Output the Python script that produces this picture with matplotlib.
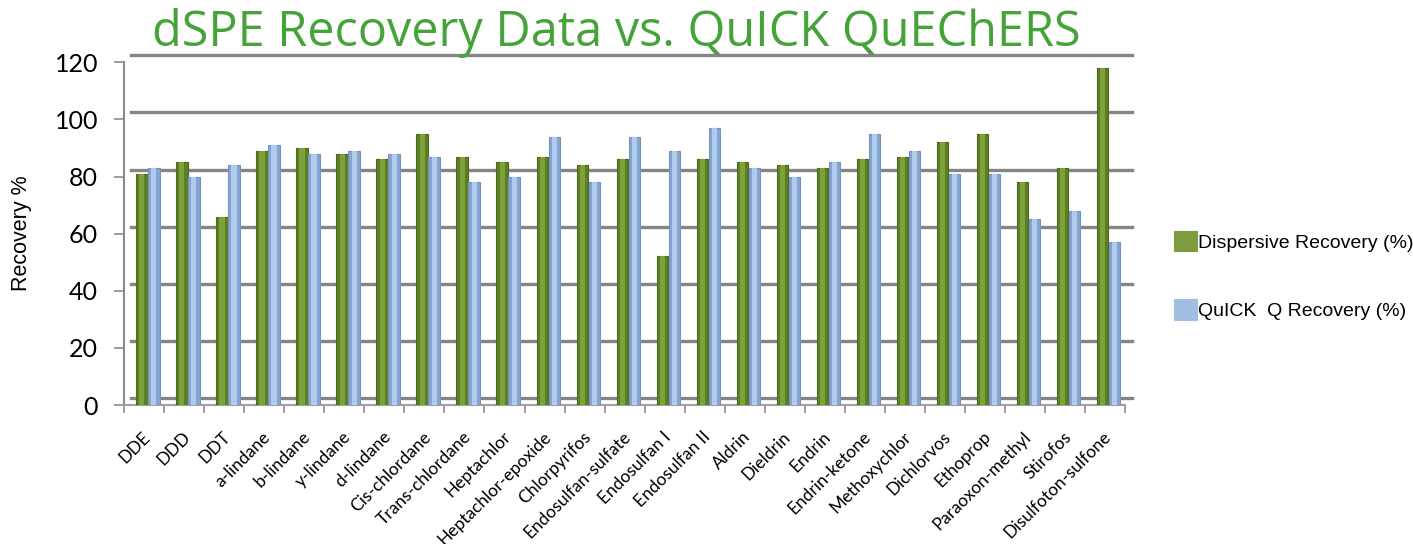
import matplotlib
matplotlib.use("Agg")
import matplotlib.pyplot as plt
import matplotlib.transforms as mtransforms
import numpy as np

categories = ["DDE", "DDD", "DDT", "a-lindane", "b-lindane", "y-lindane", "d-lindane",
              "Cis-chlordane", "Trans-chlordane", "Heptachlor", "Heptachlor-epoxide",
              "Chlorpyrifos", "Endosulfan-sulfate", "Endosulfan I", "Endosulfan II",
              "Aldrin", "Dieldrin", "Endrin", "Endrin-ketone", "Methoxychlor",
              "Dichlorvos", "Ethoprop", "Paraoxon-methyl", "Stirofos", "Disulfoton-sulfone"]
dispersive = [81, 85, 66, 89, 90, 88, 86, 95, 87, 85, 87, 84, 86, 52, 86, 85, 84, 83, 86, 87,
              92, 95, 78, 83, 118]
quick = [83, 80, 84, 91, 88, 89, 88, 87, 78, 80, 94, 78, 94, 89, 97, 83, 80, 85, 95, 89,
         81, 81, 65, 68, 57]
series_labels = ["Dispersive Recovery (%)", "QuICK  Q Recovery (%)"]
yticks = [0, 20, 40, 60, 80, 100, 120]

fig = plt.figure(figsize=(14.13, 5.44), dpi=100)
ax = fig.add_axes([0.088, 0.2555, 0.708, 0.630])

x = np.arange(len(categories))
w = 0.28
g_off, b_off = -0.06, 0.24

# gridlines on back wall (shifted for 3D look)
shift = mtransforms.ScaledTranslation(7/100, 7/100, fig.dpi_scale_trans)
for t in yticks:
    ax.plot([-0.5, len(categories) - 0.5], [t, t], color="#858585", lw=2.4,
            transform=ax.transData + shift, zorder=0, clip_on=False)

ax.bar(x + g_off, dispersive, width=w, color="#5e7e25", edgecolor="#4d6a1c", lw=0.8, zorder=3,
       label=series_labels[0])
ax.bar(x + g_off, dispersive, width=w * 0.45, color="#7ea23a", lw=0, zorder=4)
ax.bar(x + b_off, quick, width=w, color="#86a6d2", edgecolor="#7593c0", lw=0.8, zorder=3,
       label=series_labels[1])
ax.bar(x + b_off, quick, width=w * 0.45, color="#b0cbec", lw=0, zorder=4)

ax.set_xlim(-0.5, len(categories) - 0.5)
ax.set_ylim(0, 120)
ax.set_yticks(yticks)
ax.set_yticklabels([str(t) for t in yticks], fontsize=18, family="Lato")
ax.tick_params(axis="y", direction="out", length=7, width=1.2, color="#8c8c8c", pad=12)

ax.set_xticks(x)
ax.set_xticklabels(categories, rotation=45, ha="right", rotation_mode="anchor",
                   fontsize=12.5, family="Lato")
ax.tick_params(axis="x", length=0, pad=17)
ax.set_xticks(np.arange(len(categories) + 1) - 0.5, minor=True)
ax.tick_params(axis="x", which="minor", direction="out", length=6, width=1.2, color="#8c8c8c")
for lbl in ax.get_xticklabels():
    lbl.set_transform(lbl.get_transform() + mtransforms.ScaledTranslation(-0.02, 0, fig.dpi_scale_trans))

for s in ["top", "right"]:
    ax.spines[s].set_visible(False)
ax.spines["left"].set_color("#8c8c8c")
ax.spines["left"].set_linewidth(1.5)
ax.spines["bottom"].set_color("#a0a0a0")
ax.spines["bottom"].set_linewidth(1.5)

ax.set_ylabel("Recovery %", fontsize=15.5, family="Liberation Sans", labelpad=16)

fig.text(0.436, 0.94, "dSPE Recovery Data vs. QuICK QuEChERS", color="#45a33a",
         fontsize=35, family="Open Sans", ha="center", va="center")

leg = ax.legend(loc="center left", bbox_to_anchor=(1.032, 0.378), frameon=False,
                prop={"family": "Liberation Sans", "size": 14}, labelspacing=2.45,
                handlelength=1.18, handleheight=1.24, handletextpad=0.05)
leg.legend_handles[0].set_facecolor("#7f9b3f")
leg.legend_handles[0].set_edgecolor("#7f9b3f")
leg.legend_handles[1].set_facecolor("#a1bfe3")
leg.legend_handles[1].set_edgecolor("#a1bfe3")

fig.savefig("out.png", dpi=100)
